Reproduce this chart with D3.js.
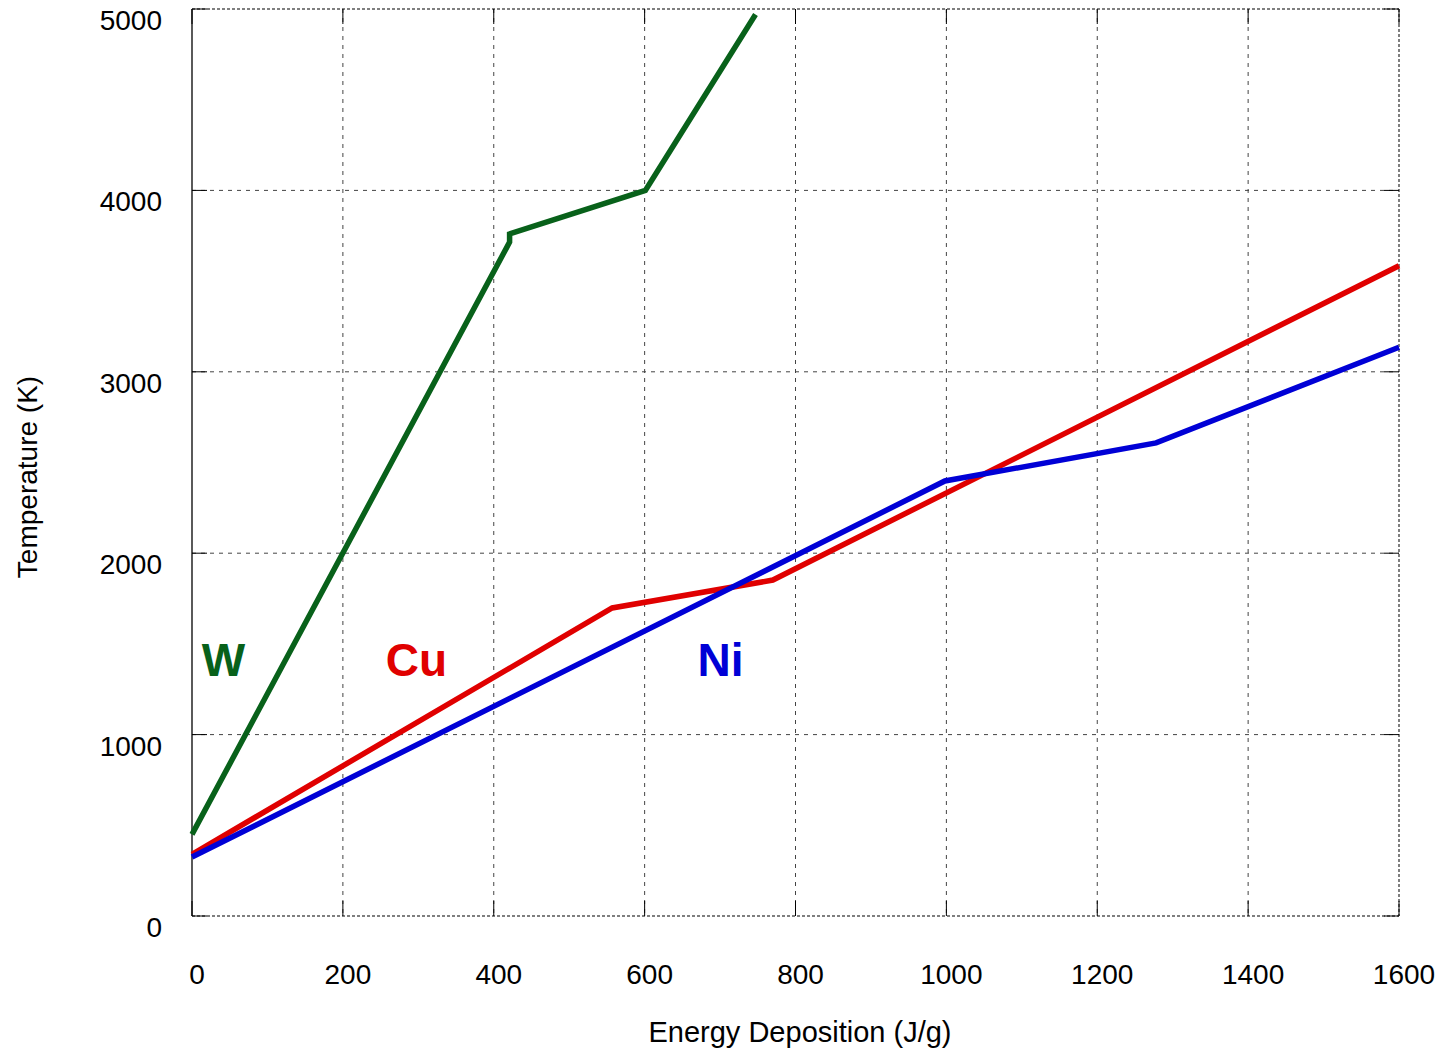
<!DOCTYPE html>
<html>
<head>
    <meta charset="utf-8" />
    <title>Temperature vs energy deposition</title>
    <style>
        body { margin: 0; background: #fff; overflow: hidden; }
        text { font-family: "Liberation Sans", Arial, sans-serif; }
    </style>
</head>
<body>
    <div id="chart"></div>
    <script src="https://d3js.org/d3.v7.min.js"></script>
    <script>
        // energy (J/g) and temperature (K)
        var wEnergy  = [0, 421, 421, 601, 747];
        var wTemp    = [450, 3715, 3760, 4000, 4970];
        var cuEnergy = [0, 557, 770, 1600];
        var cuTemp   = [340, 1698, 1852, 3585];
        var niEnergy = [0, 998, 1278, 1600];
        var niTemp   = [325, 2398, 2608, 3135];

        var xTicks = [0, 200, 400, 600, 800, 1000, 1200, 1400, 1600];
        var yTicks = [0, 1000, 2000, 3000, 4000, 5000];

        var seriesNames  = ["W", "Cu", "Ni"];
        var seriesColors = ["#08611a", "#e00000", "#0000d6"];
        // where the material labels sit (data coords)
        var labelEnergy = [13, 257, 670];
        var labelTemp   = [1325, 1325, 1325];

        var series = [
            { name: seriesNames[0], color: seriesColors[0], pts: d3.zip(wEnergy, wTemp) },
            { name: seriesNames[1], color: seriesColors[1], pts: d3.zip(cuEnergy, cuTemp) },
            { name: seriesNames[2], color: seriesColors[2], pts: d3.zip(niEnergy, niTemp) }
        ];

        var width = 1445, height = 1050;
        var margin = { left: 192, top: 9, right: 46, bottom: 134 };
        var innerW = width - margin.left - margin.right;
        var innerH = height - margin.top - margin.bottom;

        var x = d3.scaleLinear().domain([0, 1600]).range([0, innerW]);
        var y = d3.scaleLinear().domain([0, 5000]).range([innerH, 0]);

        var svg = d3.select("#chart")
            .append("svg")
            .attr("width", width)
            .attr("height", height);
        var g = svg.append("g")
            .attr("transform", `translate(${margin.left},${margin.top})`);

        // grid (dashed)
        g.append("g").selectAll("line")
            .data(xTicks.slice(1, -1))
            .join("line")
            .attr("x1", d => x(d)).attr("x2", d => x(d))
            .attr("y1", 0).attr("y2", innerH)
            .attr("stroke", "#444")
            .attr("stroke-width", 1)
            .attr("stroke-dasharray", "4,5");
        g.append("g").selectAll("line")
            .data(yTicks.slice(1, -1))
            .join("line")
            .attr("x1", 0).attr("x2", innerW)
            .attr("y1", d => y(d)).attr("y2", d => y(d))
            .attr("stroke", "#444")
            .attr("stroke-width", 1)
            .attr("stroke-dasharray", "4,5");

        // border: top/right/bottom dashed grey, left solid
        var border = g.append("g")
            .attr("stroke", "#555")
            .attr("stroke-width", 1.5)
            .attr("stroke-dasharray", "3,2");
        border.append("line").attr("x1", 0).attr("x2", innerW).attr("y1", 0).attr("y2", 0);
        border.append("line").attr("x1", 0).attr("x2", innerW).attr("y1", innerH).attr("y2", innerH);
        border.append("line").attr("x1", innerW).attr("x2", innerW).attr("y1", 0).attr("y2", innerH);
        g.append("line")
            .attr("x1", 0).attr("x2", 0)
            .attr("y1", 0).attr("y2", innerH)
            .attr("stroke", "#000").attr("stroke-width", 1.3);

        // inward tick marks on all four sides
        var tickLen = 15;
        var ticks = g.append("g").attr("stroke", "#000").attr("stroke-width", 1);
        ticks.selectAll(".xb").data(xTicks).join("line").attr("class", "xb")
            .attr("x1", d => x(d)).attr("x2", d => x(d))
            .attr("y1", innerH).attr("y2", innerH - tickLen);
        ticks.selectAll(".xt").data(xTicks).join("line").attr("class", "xt")
            .attr("x1", d => x(d)).attr("x2", d => x(d))
            .attr("y1", 0).attr("y2", tickLen);
        ticks.selectAll(".yl").data(yTicks).join("line").attr("class", "yl")
            .attr("x1", 0).attr("x2", tickLen)
            .attr("y1", d => y(d)).attr("y2", d => y(d));
        ticks.selectAll(".yr").data(yTicks).join("line").attr("class", "yr")
            .attr("x1", innerW).attr("x2", innerW - tickLen)
            .attr("y1", d => y(d)).attr("y2", d => y(d));

        // tick labels
        g.append("g").selectAll("text")
            .data(xTicks)
            .join("text")
            .attr("x", d => x(d) + 5)
            .attr("y", innerH + 68)
            .attr("text-anchor", "middle")
            .attr("font-size", 28)
            .attr("fill", "#000")
            .text(d => d);
        g.append("g").selectAll("text")
            .data(yTicks)
            .join("text")
            .attr("x", -30)
            .attr("y", d => y(d) + 21)
            .attr("text-anchor", "end")
            .attr("font-size", 28)
            .attr("fill", "#000")
            .text(d => d);

        // axis titles
        svg.append("text")
            .attr("x", 800)
            .attr("y", 1042)
            .attr("text-anchor", "middle")
            .attr("font-size", 29)
            .text("Energy Deposition (J/g)");
        svg.append("text")
            .attr("transform", "translate(37,477) rotate(-90)")
            .attr("text-anchor", "middle")
            .attr("font-size", 28)
            .text("Temperature (K)");

        // lines
        var line = d3.line()
            .x(d => x(d[0]))
            .y(d => y(d[1]));
        g.append("g").selectAll("path")
            .data(series)
            .join("path")
            .attr("d", d => line(d.pts))
            .attr("fill", "none")
            .attr("stroke", d => d.color)
            .attr("stroke-width", 5.5)
            .attr("stroke-linejoin", "miter");

        // material labels
        g.append("g").selectAll("text")
            .data(series)
            .join("text")
            .attr("x", (d, i) => x(labelEnergy[i]))
            .attr("y", (d, i) => y(labelTemp[i]))
            .attr("font-size", 46)
            .attr("font-weight", "bold")
            .attr("fill", d => d.color)
            .text(d => d.name);
    </script>
</body>
</html>
